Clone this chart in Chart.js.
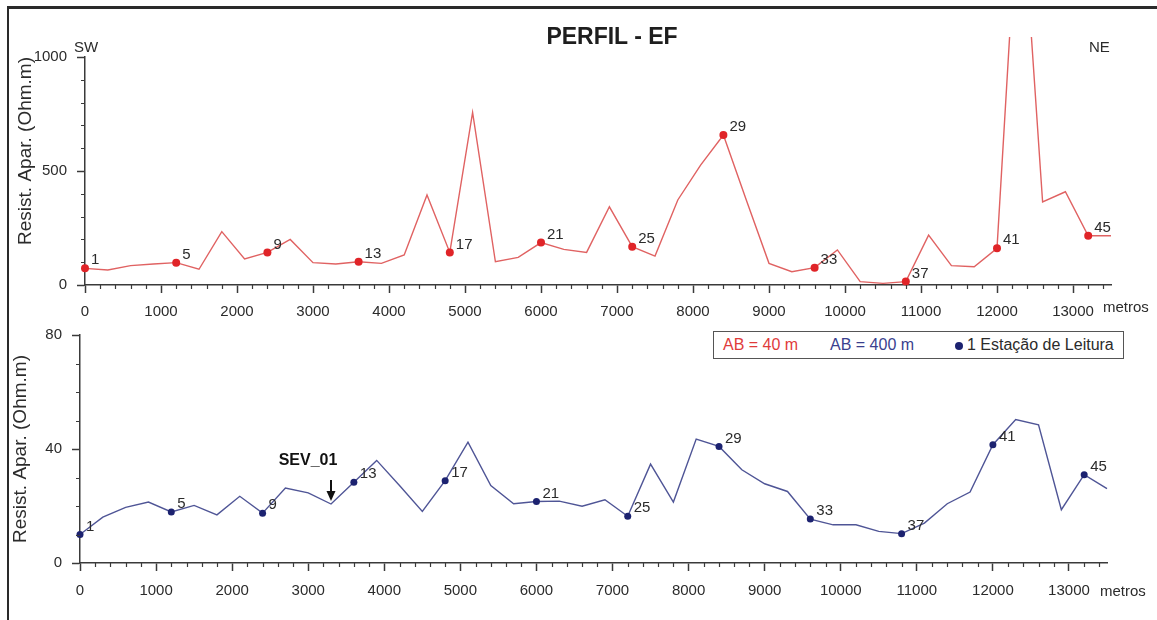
<!DOCTYPE html>
<html>
<head>
<meta charset="utf-8">
<script src="https://cdn.jsdelivr.net/npm/chart.js@4.4.1/dist/chart.umd.min.js"></script>
<style>
  body { margin: 0; background: #fff; width: 1157px; height: 620px; overflow: hidden; position: relative;
         font-family: "Liberation Sans", Arial, sans-serif; color: #2b2b2b; }
  canvas { position: absolute; left: 0; top: 0; }
  .moldura { position: absolute; left: 7px; top: 6px; width: 1200px; height: 700px;
             border-top: 3px solid #2a2a2a; border-left: 2px solid #2a2a2a; }
  .txt { position: absolute; white-space: nowrap; }
  .titulo { left: 462px; width: 300px; top: 22px; text-align: center; font-weight: bold; font-size: 23px; line-height: 28px; color: #1e1e1e; }
  .legenda { position: absolute; left: 713px; top: 331px; width: 409px; height: 26px; border: 1.5px solid #555; background: #fff; font-size: 16px; line-height: 26px; }
  .legenda span { position: absolute; top: 0; white-space: nowrap; }
  .ponto { display: inline-block; width: 8px; height: 8px; border-radius: 50%; background: #1c2270; position: relative; top: -2px; }
</style>
</head>
<body>
<div class="moldura"></div>
<canvas id="perfilAB40" width="1157" height="620"></canvas>
<canvas id="perfilAB400" width="1157" height="620"></canvas>

<div class="txt titulo">PERFIL - EF</div>
<div class="txt" style="left:74px;top:38px;font-size:15px;">SW</div>
<div class="txt" style="left:1089px;top:38px;font-size:15px;">NE</div>
<div class="txt" style="left:1103px;top:298px;font-size:15px;">metros</div>
<div class="txt" style="left:1100px;top:582px;font-size:15px;">metros</div>
<div class="legenda">
  <span style="left:9px;color:#df3b3b;">AB = 40 m</span>
  <span style="left:116px;color:#3a3f8e;">AB = 400 m</span>
  <span style="left:241px;"><span class="ponto" style="position:relative;"></span></span>
  <span style="left:253px;color:#2b2b2b;">1 Estação de Leitura</span>
</div>

<script>
// distancia ao longo do perfil (m), uma estacao a cada 300 m
let distancia = [0, 300, 600, 900, 1200, 1500, 1800, 2100, 2400, 2700,
  3000, 3300, 3600, 3900, 4200, 4500, 4800, 5100, 5400, 5700,
  6000, 6300, 6600, 6900, 7200, 7500, 7800, 8100, 8400, 8700,
  9000, 9300, 9600, 9900, 10200, 10500, 10800, 11100, 11400, 11700,
  12000, 12300, 12600, 12900, 13200, 13500];

// resistividade aparente (Ohm.m)
let resistAB40 = [73, 66, 85, 92, 98, 69, 234, 114, 143, 200,
  98, 92, 102, 95, 132, 395, 143, 757, 102, 121,
  186, 156, 143, 343, 168, 127, 373, 526, 658, 374,
  95, 58, 76, 154, 15, 7, 15, 219, 85, 80,
  161, 1840, 364, 409, 216, 216];

let resistAB400 = [10, 16.1, 19.5, 21.4, 17.9, 20.2, 16.9, 23.4, 17.5, 26.3,
  24.6, 20.7, 28.3, 36.0, 27.2, 18.1, 28.9, 42.4, 27.2, 20.8,
  21.6, 21.7, 19.9, 22.2, 16.4, 34.7, 21.4, 43.5, 40.9, 32.7,
  27.8, 25.1, 15.4, 13.4, 13.4, 11.1, 10.3, 14.0, 20.8, 24.9,
  41.5, 50.3, 48.5, 18.7, 31.0, 26.1];

// estacoes marcadas com ponto e numero
let estacoes = [1, 5, 9, 13, 17, 21, 25, 29, 33, 37, 41, 45];

let ticksX = [0, 1000, 2000, 3000, 4000, 5000, 6000, 7000, 8000, 9000, 10000, 11000, 12000, 13000];

let sevEstacao = 12;
let sevRotulo = 'SEV_01';

const fonte = '"Liberation Sans", Arial, sans-serif';
const corEixo = '#3a3a3a';

// ticks menores dos eixos
const ticksMenores = {
  id: 'ticksMenores',
  afterDraw(chart, args, opts) {
    const { ctx, scales: { x, y } } = chart;
    ctx.save();
    ctx.strokeStyle = corEixo;
    ctx.lineWidth = 1.2;
    ctx.beginPath();
    for (let v = x.min; v <= x.max; v += opts.passoX) {
      if (ticksX.includes(v)) continue;
      const px = Math.round(x.getPixelForValue(v)) + 0.5;
      ctx.moveTo(px, y.bottom);
      ctx.lineTo(px, y.bottom + 4);
    }
    for (let v = y.min; v <= y.max; v += opts.passoY) {
      if (v % opts.maiorY === 0) continue;
      const py = Math.round(y.getPixelForValue(v)) + 0.5;
      ctx.moveTo(x.left, py);
      ctx.lineTo(x.left - 4, py);
    }
    ctx.stroke();
    ctx.restore();
  }
};

// numero da estacao ao lado de cada ponto
const rotulosEstacao = {
  id: 'rotulosEstacao',
  afterDatasetsDraw(chart) {
    const meta = chart.getDatasetMeta(1);
    const dados = chart.data.datasets[1].data;
    const ctx = chart.ctx;
    ctx.save();
    ctx.font = '15px ' + fonte;
    ctx.fillStyle = '#2b2b2b';
    ctx.textAlign = 'left';
    ctx.textBaseline = 'middle';
    meta.data.forEach((p, i) => {
      ctx.fillText(String(dados[i].n), p.x + 6, p.y - 8);
    });
    ctx.restore();
  }
};

// seta do SEV_01 no perfil AB = 400 m
const setaSev = {
  id: 'setaSev',
  afterDatasetsDraw(chart) {
    const { ctx, scales: { x, y } } = chart;
    const px = Math.round(x.getPixelForValue(distancia[sevEstacao - 1]));
    const ponta = y.getPixelForValue(resistAB400[sevEstacao - 1]) - 3;
    ctx.save();
    ctx.strokeStyle = '#111';
    ctx.fillStyle = '#111';
    ctx.lineWidth = 2;
    ctx.beginPath();
    ctx.moveTo(px, ponta - 21);
    ctx.lineTo(px, ponta - 8);
    ctx.stroke();
    ctx.beginPath();
    ctx.moveTo(px - 4.5, ponta - 10);
    ctx.lineTo(px + 4.5, ponta - 10);
    ctx.lineTo(px, ponta);
    ctx.closePath();
    ctx.fill();
    ctx.font = 'bold 16px ' + fonte;
    ctx.textAlign = 'center';
    ctx.textBaseline = 'middle';
    ctx.fillText(sevRotulo, px - 23, ponta - 40);
    ctx.restore();
  }
};

function montaGrafico(id, valores, corLinha, corPonto, raio, yMax, yPasso, yMenor, padding, tituloAlign) {
  return new Chart(document.getElementById(id), {
    type: 'line',
    data: {
      datasets: [{
        data: distancia.map((d, i) => ({ x: d, y: valores[i] })),
        borderColor: corLinha,
        borderWidth: 1.4,
        pointRadius: 0,
        tension: 0,
        order: 2,
        clip: { left: 5, top: 20, right: 5, bottom: 5 }
      }, {
        data: estacoes.map(n => ({ x: distancia[n - 1], y: valores[n - 1], n: n })),
        showLine: false,
        pointRadius: raio,
        pointBackgroundColor: corPonto,
        pointBorderColor: corPonto,
        pointBorderWidth: 0,
        order: 1,
        clip: false
      }]
    },
    options: {
      responsive: false,
      animation: false,
      layout: { padding: padding },
      plugins: {
        legend: { display: false },
        tooltip: { enabled: false },
        ticksMenores: { passoX: 200, passoY: yMenor, maiorY: yPasso }
      },
      scales: {
        x: {
          type: 'linear',
          min: 0,
          max: 13500,
          afterBuildTicks: s => { s.ticks = ticksX.map(v => ({ value: v })); },
          afterFit: s => { s.height = 40; },
          border: { display: true, color: corEixo, width: 1.5 },
          grid: { drawOnChartArea: false, tickLength: 8, tickWidth: 1.5, color: corEixo },
          ticks: {
            autoSkip: false,
            maxRotation: 0,
            padding: id === 'perfilAB40' ? 10 : 11,
            color: '#2b2b2b',
            font: { family: fonte, size: 15 },
            callback: v => String(v)
          }
        },
        y: {
          min: 0,
          max: yMax,
          afterFit: s => { s.width = 75; },
          border: { display: true, color: corEixo, width: 1.5 },
          grid: { drawOnChartArea: false, tickLength: 8, tickWidth: 1.5, color: corEixo },
          ticks: {
            stepSize: yPasso,
            padding: 10,
            color: '#2b2b2b',
            font: { family: fonte, size: 15 },
            callback: v => String(v)
          },
          title: {
            display: true,
            text: 'Resist. Apar. (Ohm.m)',
            align: tituloAlign,
            color: '#2b2b2b',
            font: { family: fonte, size: 19 },
            padding: { top: 4, bottom: 4 }
          }
        }
      }
    },
    plugins: id === 'perfilAB400' ? [ticksMenores, rotulosEstacao, setaSev] : [ticksMenores, rotulosEstacao]
  });
}

montaGrafico('perfilAB40', resistAB40, '#e06262', '#e02428', 4, 1000, 500, 100,
  { left: 10, top: 57, right: 46, bottom: 295 }, 'end');
montaGrafico('perfilAB400', resistAB400, '#4f5596', '#1c2270', 3.5, 80, 40, 10,
  { left: 5, top: 335, right: 50, bottom: 17 }, 'center');
</script>
</body>
</html>
